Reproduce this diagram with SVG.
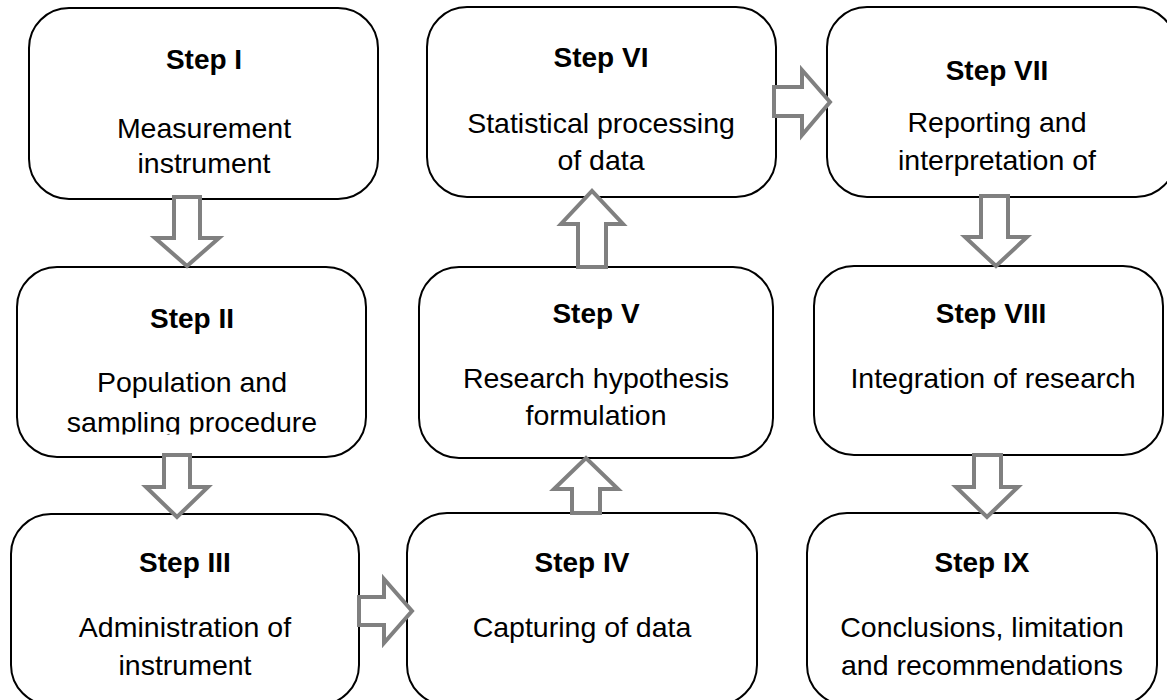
<svg xmlns="http://www.w3.org/2000/svg" width="1167" height="700" viewBox="0 0 1167 700">
  <style>
    .box { fill: #ffffff; stroke: #000000; stroke-width: 2; }
    .title { font-family: "Liberation Sans", Arial, sans-serif; font-size: 28px; font-weight: bold; fill: #000000; text-anchor: middle; }
    .body { font-family: "Liberation Sans", Arial, sans-serif; font-size: 28.5px; fill: #000000; text-anchor: middle; }
    .arrow { fill: #ffffff; stroke: #808080; stroke-width: 4; stroke-linejoin: miter; }
  </style>
  <defs>
    <!-- the last line of step II loses its descenders -->
    <clipPath id="clip-step2-text">
      <rect x="0" y="0" width="1167" height="434.5"/>
    </clipPath>
  </defs>
  <rect width="1167" height="700" fill="#ffffff"/>

  <g id="step1">
    <rect class="box" x="29" y="8" width="349" height="191" rx="40" ry="40"/>
    <text class="title" x="204" y="69">Step I</text>
    <text class="body" x="204" y="138">Measurement</text>
    <text class="body" x="204" y="173">instrument</text>
  </g>

  <g id="step2">
    <rect class="box" x="17" y="267" width="349" height="190" rx="40" ry="40"/>
    <text class="title" x="192" y="328">Step II</text>
    <g clip-path="url(#clip-step2-text)">
      <text class="body" x="192" y="392">Population and</text>
      <text class="body" x="192" y="432">sampling procedure</text>
    </g>
  </g>

  <g id="step3">
    <rect class="box" x="11" y="514" width="348" height="191" rx="40" ry="40"/>
    <text class="title" x="185" y="572">Step III</text>
    <text class="body" x="185" y="637">Administration of</text>
    <text class="body" x="185" y="675">instrument</text>
  </g>

  <g id="step4">
    <rect class="box" x="407" y="513" width="350" height="192" rx="40" ry="40"/>
    <text class="title" x="582" y="572">Step IV</text>
    <text class="body" x="582" y="637">Capturing of data</text>
  </g>

  <g id="step5">
    <rect class="box" x="419" y="267" width="354" height="191" rx="40" ry="40"/>
    <text class="title" x="596" y="323">Step V</text>
    <text class="body" x="596" y="388">Research hypothesis</text>
    <text class="body" x="596" y="425">formulation</text>
  </g>

  <g id="step6">
    <rect class="box" x="427" y="7" width="349" height="190" rx="40" ry="40"/>
    <text class="title" x="601" y="67">Step VI</text>
    <text class="body" x="601" y="133">Statistical processing</text>
    <text class="body" x="601" y="170">of data</text>
  </g>

  <g id="step7">
    <rect class="box" x="827" y="7" width="349" height="190" rx="40" ry="40"/>
    <text class="title" x="997" y="80">Step VII</text>
    <text class="body" x="997" y="132">Reporting and</text>
    <text class="body" x="997" y="170">interpretation of</text>
  </g>

  <g id="step8">
    <rect class="box" x="814" y="266" width="349" height="189" rx="40" ry="40"/>
    <text class="title" x="991" y="323">Step VIII</text>
    <text class="body" x="993" y="388">Integration of research</text>
  </g>

  <g id="step9">
    <rect class="box" x="807" y="513" width="350" height="192" rx="40" ry="40"/>
    <text class="title" x="982" y="572">Step IX</text>
    <text class="body" x="982" y="637">Conclusions, limitation</text>
    <text class="body" x="982" y="675">and recommendations</text>
  </g>

  <!-- block arrows between the steps -->
  <g id="connectors">
    <!-- I to II (down) -->
    <polygon class="arrow" points="174,197 200,197 200,238 219,238 187,266 155,238 174,238"/>
    <!-- II to III (down) -->
    <polygon class="arrow" points="164,455 190,455 190,487 208,487 177,517 146,487 164,487"/>
    <!-- III to IV (right) -->
    <polygon class="arrow" points="359,597 384,597 384,579 412,611 384,643 384,625 359,625"/>
    <!-- IV to V (up) -->
    <polygon class="arrow" points="572,513 600,513 600,489 618,489 586,458 554,489 572,489"/>
    <!-- V to VI (up) -->
    <polygon class="arrow" points="578,267 606,267 606,224 623,224 592,191 561,224 578,224"/>
    <!-- VI to VII (right) -->
    <polygon class="arrow" points="774,87 802,87 802,70 830,102 802,135 802,116 774,116"/>
    <!-- VII to VIII (down) -->
    <polygon class="arrow" points="981,196 1008,196 1008,237 1027,237 996,266 965,237 981,237"/>
    <!-- VIII to IX (down) -->
    <polygon class="arrow" points="974,455 1001,455 1001,487 1018,487 987,517 956,487 974,487"/>
  </g>
</svg>
